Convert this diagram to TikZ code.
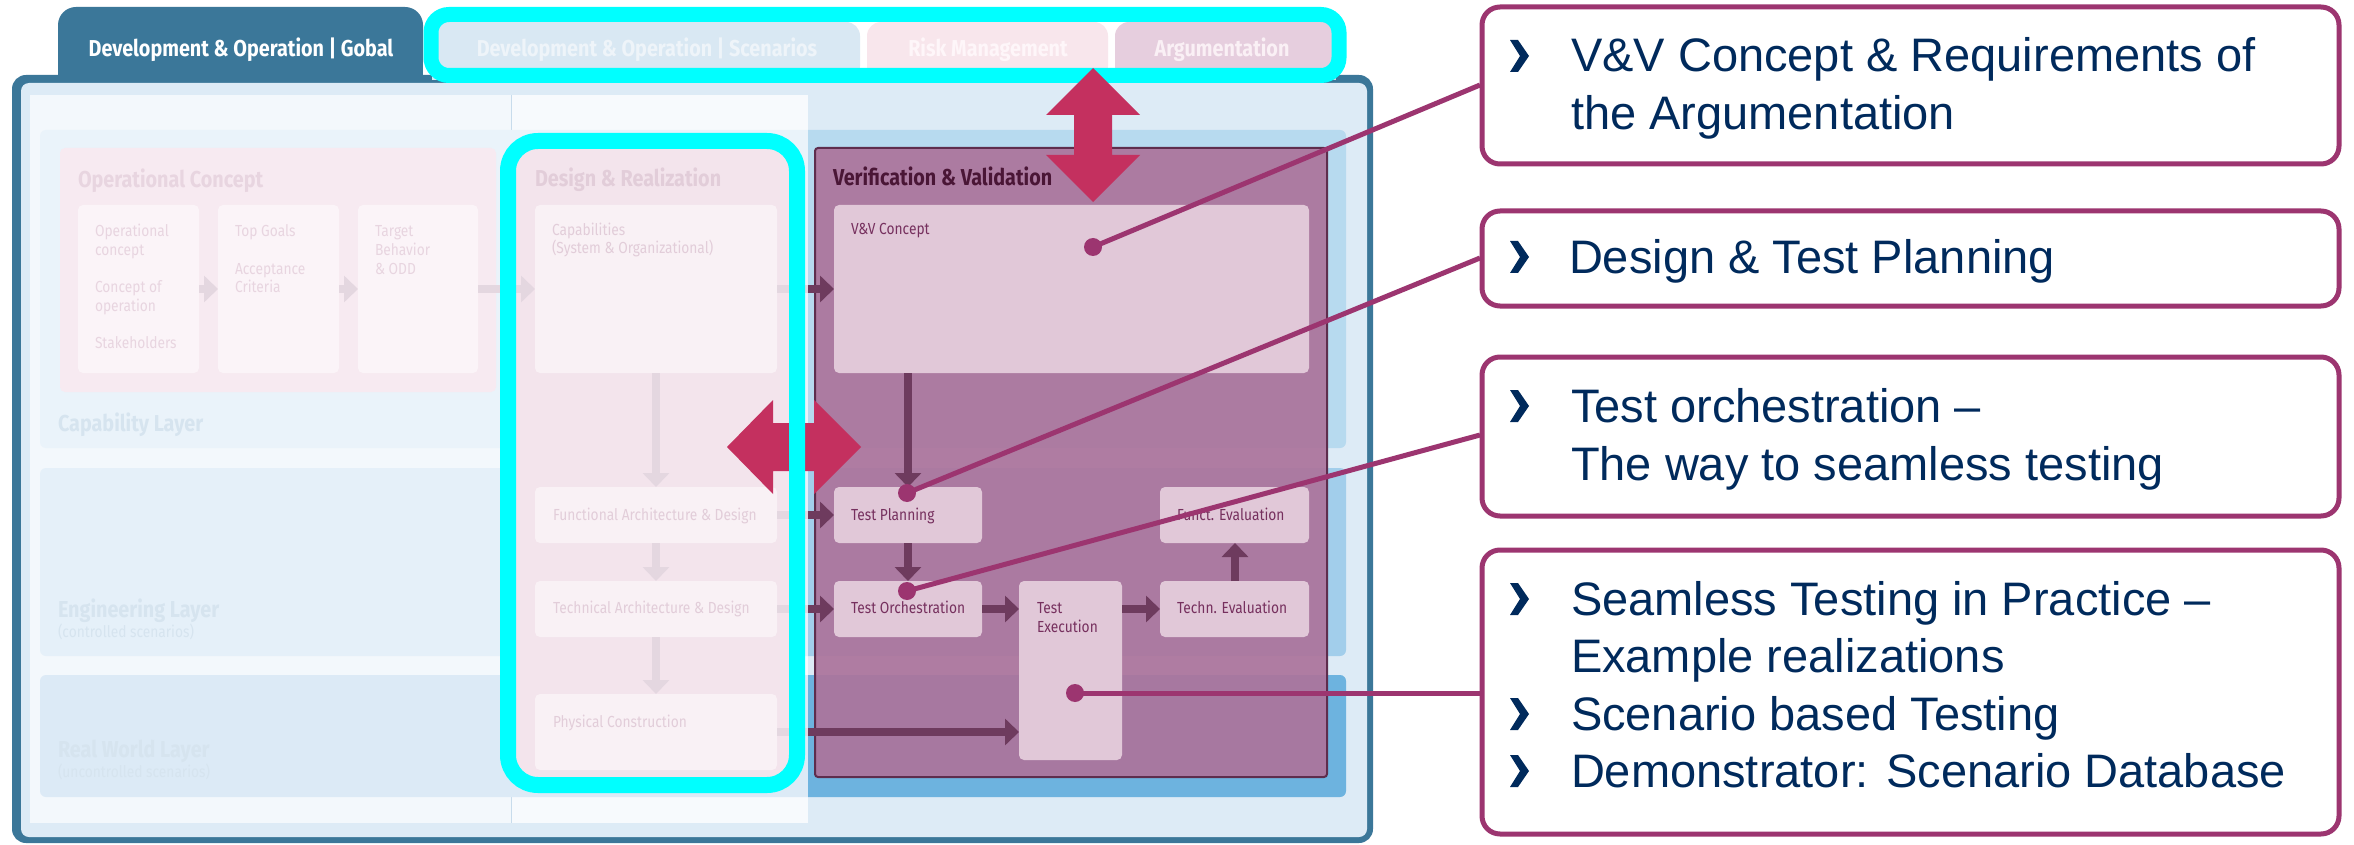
\documentclass[tikz,border=0pt]{standalone}
\usepackage{fontspec}
\setmainfont{Liberation Sans}
\newfontfamily\dgfont[FakeStretch=0.86]{Fira Sans}
\usetikzlibrary{arrows.meta}
\definecolor{frameblue}{HTML}{3B7799}
\definecolor{panelblue}{HTML}{DDEBF6}
\definecolor{fadewhite}{HTML}{F3F8FC}
\definecolor{fadewhiteb}{HTML}{F7FAFD}
\definecolor{sepline}{HTML}{C8DCEC}
\definecolor{capf}{HTML}{EAF3FA}
\definecolor{engf}{HTML}{E5F0F9}
\definecolor{realf}{HTML}{DCEAF6}
\definecolor{capu}{HTML}{B7DAEF}
\definecolor{engu}{HTML}{A2CEEB}
\definecolor{realu}{HTML}{6DB3DF}
\definecolor{laytext}{HTML}{D6E4EF}
\definecolor{ocbg}{HTML}{F7EAF1}
\definecolor{ocsub}{HTML}{FBF4F8}
\definecolor{octext}{HTML}{E8D5E0}
\definecolor{drbg}{HTML}{F3E4EC}
\definecolor{drsub}{HTML}{F9F1F5}
\definecolor{drtext}{HTML}{E2CDD9}
\definecolor{palearrow}{HTML}{E4D7E0}
\definecolor{vvbg}{HTML}{AC739B}
\definecolor{vvborder}{HTML}{5E2D4D}
\definecolor{vvsub}{HTML}{E1C8D8}
\definecolor{vvtitle}{HTML}{4A1636}
\definecolor{vvtext}{HTML}{76305E}
\definecolor{vvarrow}{HTML}{6E3B5E}
\definecolor{hicyan}{HTML}{00FFFF}
\definecolor{bigred}{HTML}{C4305F}
\definecolor{callout}{HTML}{9C3570}
\definecolor{navytext}{HTML}{002A5C}
\definecolor{tabscen}{HTML}{D9E8F3}
\definecolor{tabscentext}{HTML}{EEF4F9}
\definecolor{tabrisk}{HTML}{F8E6EC}
\definecolor{tabrisktext}{HTML}{FEF6F9}
\definecolor{tabarg}{HTML}{E6CEDE}
\definecolor{tabargtext}{HTML}{FAF0F5}
\tikzset{
  every node/.style={inner sep=0pt, outer sep=0pt},
  dsm/.style={font=\dgfont\fontsize{16}{19}\selectfont, anchor=base west},
  dhd/.style={font=\dgfont\bfseries\fontsize{23}{27}\selectfont, anchor=base west},
  dtab/.style={font=\dgfont\bfseries\fontsize{23}{27}\selectfont, anchor=base},
  pbox/.style={anchor=north west, rounded corners=5},
  ocsubbox/.style={pbox, fill=ocsub},
  drbox/.style={pbox, fill=drsub},
  vvbox/.style={pbox, fill=vvsub},
  farrow/.style={draw=palearrow, line width=8, -{Triangle[width=26pt, length=14pt]}},
  darrow/.style={draw=vvarrow, line width=8, -{Triangle[width=26pt, length=14pt]}},
  fline/.style={draw=palearrow, line width=8},
  callbox/.style={draw=callout, line width=5, fill=white, rounded corners=18, anchor=north west},
  ctext/.style={font=\fontsize{47}{57}\selectfont, text=navytext, anchor=base west},
  conn/.style={draw=callout, line width=5},
  cdot/.style={circle, fill=callout, minimum size=18},
  bulletmark/.style={fill=navytext},
}
\begin{document}
\begin{tikzpicture}[x=1pt,y=-1pt]
\useasboundingbox (0,0) rectangle (2354,845);
\fill[white] (0,0) rectangle (2354,845);

% ---------- frame ----------
\fill[frameblue, rounded corners=18] (58,7) rectangle (423,80);
\fill[frameblue] (58,40) rectangle (423,80);
\fill[frameblue, rounded corners=14] (12,75) rectangle (1373,843);
\fill[panelblue, rounded corners=8] (21,83) rectangle (1367,837);
\fill[fadewhite] (30,95) rectangle (511,823);
\fill[fadewhiteb] (511,95) rectangle (808,823);
\draw[line width=1, draw=sepline] (511,95) -- (511,823);

% ---------- layers ----------
\begin{scope}
  \clip (0,0) rectangle (808,845);
  \fill[capf, rounded corners=6] (40,130) rectangle (900,448);
  \fill[engf, rounded corners=6] (40,468) rectangle (900,656);
  \fill[realf, rounded corners=6] (40,675) rectangle (900,797);
\end{scope}
\begin{scope}
  \clip (808,0) rectangle (1400,845);
  \fill[capu, rounded corners=6] (700,130) rectangle (1346,448);
  \fill[engu, rounded corners=6] (700,468) rectangle (1346,656);
  \fill[realu, rounded corners=6] (700,675) rectangle (1346,797);
\end{scope}
\node[dhd, text=laytext] (lcap) at (58,431) {Capability Layer};
\node[dhd, text=laytext] (leng) at (58,617) {Engineering Layer};
\node[dsm, text=laytext] (lengs) at (58,637) {(controlled scenarios)};
\node[dhd, text=laytext] (lreal) at (58,757) {Real World Layer};
\node[dsm, text=laytext] (lreals) at (58,777) {(uncontrolled scenarios)};

% ---------- operational concept ----------
\node[pbox, fill=ocbg, minimum width=436, minimum height=244] (oc) at (60,148) {};
\node[dhd, text=octext] (octitle) at (78,188) {Operational Concept};
\node[ocsubbox, minimum width=121, minimum height=168] (oc1) at (78,205) {};
\node[ocsubbox, minimum width=121, minimum height=168] (oc2) at (218,205) {};
\node[ocsubbox, minimum width=120, minimum height=168] (oc3) at (358,205) {};
\node[dsm, text=octext] (oc1a) at (95,237) {Operational};
\node[dsm, text=octext] (oc1b) at (95,255.5) {concept};
\node[dsm, text=octext] (oc1c) at (95,292.5) {Concept of};
\node[dsm, text=octext] (oc1d) at (95,311) {operation};
\node[dsm, text=octext] (oc1e) at (95,348) {Stakeholders};
\node[dsm, text=octext] (oc2a) at (235,237) {Top Goals};
\node[dsm, text=octext] (oc2b) at (235,274) {Acceptance};
\node[dsm, text=octext] (oc2c) at (235,292.5) {Criteria};
\node[dsm, text=octext] (oc3a) at (375,237) {Target};
\node[dsm, text=octext] (oc3b) at (375,255.5) {Behavior};
\node[dsm, text=octext] (oc3c) at (375,274) {\& ODD};
\draw[farrow] (oc1) -- (oc2);
\draw[farrow] (oc2) -- (oc3);

% ---------- design & realization ----------
\node[anchor=north west, fill=drbg, rounded corners=30, minimum width=289, minimum height=644] (dr) at (508,141) {};
\node[dhd, text=drtext] (drtitle) at (535,187) {Design \& Realization};
\node[drbox, minimum width=242, minimum height=168] (cap) at (535,205) {};
\node[drbox, minimum width=242, minimum height=56] (fad) at (535,487) {};
\node[drbox, minimum width=242, minimum height=56] (tad) at (535,581) {};
\node[drbox, minimum width=242, minimum height=76] (pc) at (535,694) {};
\node[dsm, text=drtext] (capa) at (552,235.5) {Capabilities};
\node[dsm, text=drtext] (capb) at (552,254) {(System \& Organizational)};
\node[dsm, text=drtext] (fadt) at (553,520) {Functional Architecture \& Design};
\node[dsm, text=drtext] (tadt) at (553,613) {Technical Architecture \& Design};
\node[dsm, text=drtext] (pct) at (553,727) {Physical Construction};
\draw[farrow] (oc3) -- (cap);
\draw[farrow] (cap) -- (fad);
\draw[farrow] (fad) -- (tad);
\draw[farrow] (tad) -- (pc);

% ---------- verification & validation ----------
\node[anchor=north west, fill=vvbg, fill opacity=0.92, draw=vvborder, draw opacity=1, line width=2, rounded corners=3, minimum width=512, minimum height=629] (vv) at (815,148) {};
\node[dhd, text=vvtitle] (vvtitle) at (833,186) {Verification \& Validation};
\node[vvbox, minimum width=475, minimum height=168] (vvc) at (834,205) {};
\node[vvbox, minimum width=148, minimum height=56] (tp) at (834,487) {};
\node[vvbox, minimum width=148, minimum height=56] (to) at (834,581) {};
\node[vvbox, minimum width=103, minimum height=179] (te) at (1019,581) {};
\node[vvbox, minimum width=149, minimum height=56] (tev) at (1160,581) {};
\node[vvbox, minimum width=149, minimum height=56] (fe) at (1160,487) {};
\node[dsm, text=vvtext] (vvct) at (851,235) {V\&V Concept};
\node[dsm, text=vvtext] (tpt) at (851,520) {Test Planning};
\node[dsm, text=vvtext] (tot) at (851,613) {Test Orchestration};
\node[dsm, text=vvtext] (tea) at (1037,613) {Test};
\node[dsm, text=vvtext] (teb) at (1037,632) {Execution};
\node[dsm, text=vvtext] (tevt) at (1177,613) {Techn. Evaluation};
\node[dsm, text=vvtext] (fet) at (1177,520) {Funct. Evaluation};
\coordinate (fadeX) at (808,0);
\draw[darrow] (cap) -- (vvc);
\draw[darrow] (fad) -- (tp);
\draw[darrow] (tad) -- (to);
\draw[darrow] (pc.east |- 0,732) -- (te.west |- 0,732);
\draw[fline] (cap.east) -- (fadeX |- cap.east);
\draw[fline] (fad.east) -- (fadeX |- fad.east);
\draw[fline] (tad.east) -- (fadeX |- tad.east);
\draw[fline] (pc.east |- 0,732) -- (fadeX |- 0,732);
\draw[darrow] (vvc.south -| 908,0) -- (tp.north -| 908,0);
\draw[darrow] (tp.south -| 908,0) -- (to.north -| 908,0);
\draw[darrow] (to) -- (te.west |- to.east);
\draw[darrow] (te.east |- tev.west) -- (tev);
\draw[darrow] (tev.north -| 1235,0) -- (fe.south -| 1235,0);

% ---------- horizontal red double arrow ----------
\fill[bigred] (727,447) -- (773,400) -- (773,423) -- (814,423) -- (814,400) -- (861,447)
  -- (814,494) -- (814,471) -- (773,471) -- (773,494) -- cycle;

% ---------- cyan highlight of design column ----------
\draw[hicyan, line width=16, rounded corners=30] (dr.north west) rectangle (dr.south east);

% ---------- tabs ----------
\fill[tabscen, rounded corners=14] (432,22) rectangle (860,80);
\fill[tabscen] (432,50) rectangle (860,80);
\fill[tabrisk, rounded corners=14] (867,22) rectangle (1108,80);
\fill[tabrisk] (867,50) rectangle (1108,80);
\fill[tabarg, rounded corners=14] (1115,22) rectangle (1336,80);
\fill[tabarg] (1115,50) rectangle (1336,80);
\node[dtab, text=white] (tabg) at (241,57) {Development \& Operation | Gobal};
\node[dtab, text=tabscentext] (tabs) at (647,57) {Development \& Operation | Scenarios};
\node[dtab, text=tabrisktext] (tabr) at (988,57) {Risk Management};
\node[dtab, text=tabargtext] (taba) at (1222,57) {Argumentation};
\draw[hicyan, line width=15, rounded corners=18] (431,14.5) rectangle (1339,75.5);

% ---------- vertical red double arrow ----------
\fill[bigred] (1093,68) -- (1140,115) -- (1112,115) -- (1112,155) -- (1140,155) -- (1093,202)
  -- (1046,155) -- (1074,155) -- (1074,115) -- (1046,115) -- cycle;

% ---------- callouts ----------
\node[callbox, minimum width=857, minimum height=157] (c1) at (1482,7) {};
\node[callbox, minimum width=857, minimum height=95] (c2) at (1482,211) {};
\node[callbox, minimum width=857, minimum height=159] (c3) at (1482,357) {};
\node[callbox, minimum width=857, minimum height=284] (c4) at (1482,550) {};
\node[ctext] (c1a) at (1571,72) {V\&V Concept \& Requirements of};
\node[ctext] (c1b) at (1571,130) {the Argumentation};
\node[ctext] (c2a) at (1569,273) {Design \& Test Planning};
\node[ctext] (c3a) at (1571,422) {Test orchestration –};
\node[ctext] (c3b) at (1571,480) {The way to seamless testing};
\node[ctext] (c4a) at (1571,615) {Seamless Testing in Practice –};
\node[ctext] (c4b) at (1571,672) {Example realizations};
\node[ctext] (c4c) at (1571,730) {Scenario based Testing};
\node[ctext] (c4d) at (1571,787) {Demonstrator: Scenario Database};
\foreach \by in {40,241,390,583,698,755}{
  \fill[bulletmark] (1510,\by) -- (1518,\by) -- (1529,\by+16) -- (1518,\by+32) -- (1510,\by+32) -- (1520,\by+16) -- cycle;
}

% ---------- connectors ----------
\coordinate (c1in) at (1480,85);
\coordinate (c2in) at (1480,258);
\coordinate (c3in) at (1480,435);
\coordinate (c4in) at (1480,693);
\node[cdot] (d1) at (1093,247) {};
\node[cdot] (d2) at (907,493) {};
\node[cdot] (d3) at (907,591) {};
\node[cdot] (d4) at (1075,693) {};
\draw[conn] (d1.center) -- (c1in);
\draw[conn] (d2.center) -- (c2in);
\draw[conn] (d3.center) -- (c3in);
\draw[conn] (d4.center) -- (c4in);
\end{tikzpicture}
\end{document}
